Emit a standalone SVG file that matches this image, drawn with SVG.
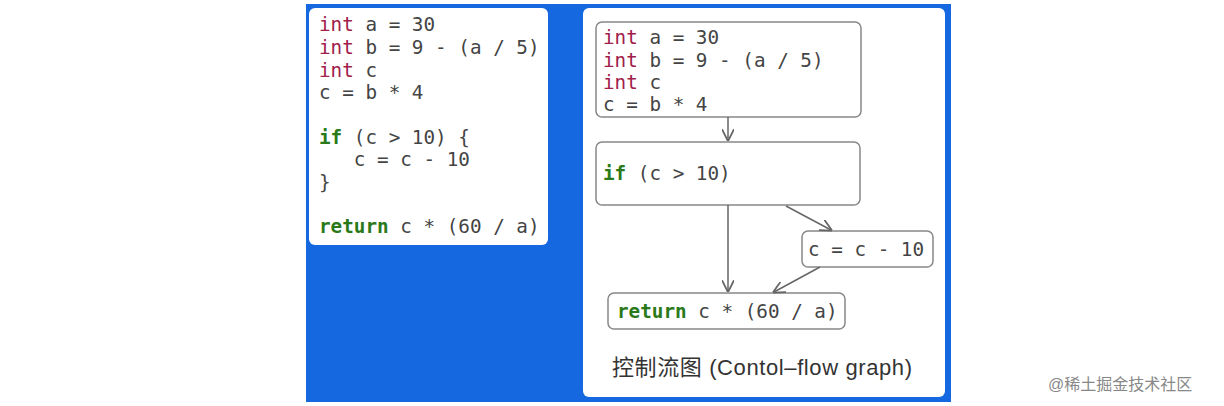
<svg xmlns="http://www.w3.org/2000/svg" width="1224" height="406" viewBox="0 0 1224 406">
<defs>
<style>
.code{font-family:"DejaVu Sans Mono",monospace;font-size:19.3px;fill:#444}
.kw{fill:#a0204a}.kg{fill:#2a7a1a;font-weight:bold}
.box{fill:#fff;stroke:#888;stroke-width:1.5}
.edge{stroke:#666;stroke-width:1.5;fill:none;marker-end:url(#ah)}
</style>
<marker id="ah" viewBox="0 0 10 10" refX="9" refY="5" markerWidth="8" markerHeight="8" orient="auto"><path d="M0,0 L10,5 L0,10" fill="none" stroke="#666" stroke-width="1.5"/></marker>
</defs>
<rect width="1224" height="406" fill="#fff"/>
<rect x="306" y="4" width="645" height="398" fill="#1668e0"/>
<g id="code-panel">
<rect x="309" y="8" width="239" height="237" rx="6" fill="#fff"/>
<text class="code" x="319" y="31"><tspan class="kw">int</tspan> a = 30</text>
<text class="code" x="319" y="54"><tspan class="kw">int</tspan> b = 9 - (a / 5)</text>
<text class="code" x="319" y="77"><tspan class="kw">int</tspan> c</text>
<text class="code" x="319" y="99">c = b * 4</text>
<text class="code" x="319" y="144"><tspan class="kg">if</tspan> (c &gt; 10) {</text>
<text class="code" x="319" y="166" xml:space="preserve">   c = c - 10</text>
<text class="code" x="319" y="189">}</text>
<text class="code" x="319" y="233"><tspan class="kg">return</tspan> c * (60 / a)</text>
</g>
<rect x="583" y="8" width="362" height="389" rx="6" fill="#fff"/>
<g id="n1"><rect class="box" x="596" y="22" width="265" height="95" rx="6"/>
<text class="code" x="603" y="44"><tspan class="kw">int</tspan> a = 30</text>
<text class="code" x="603" y="67"><tspan class="kw">int</tspan> b = 9 - (a / 5)</text>
<text class="code" x="603" y="89"><tspan class="kw">int</tspan> c</text>
<text class="code" x="603" y="111">c = b * 4</text></g>
<g id="n2"><rect class="box" x="596" y="142" width="264" height="63" rx="6"/>
<text class="code" x="603" y="180"><tspan class="kg">if</tspan> (c &gt; 10)</text></g>
<g id="n3"><rect class="box" x="802" y="231" width="131" height="36" rx="6"/>
<text class="code" x="808" y="256">c = c - 10</text></g>
<g id="n4"><rect class="box" x="608" y="293" width="237" height="36" rx="6"/>
<text class="code" x="617" y="318"><tspan class="kg">return</tspan> c * (60 / a)</text></g>
<g id="edges">
<path class="edge" d="M728,117 L728,140"/>
<path class="edge" d="M728,205 L728,291"/>
<path class="edge" d="M786,206 L831,230"/>
<path class="edge" d="M820,267 L774,292"/>
</g>
<text x="612" y="375" font-family="Liberation Sans,'Noto Sans CJK SC',sans-serif" font-size="22" textLength="300" fill="#333">控制流图 (Contol–flow graph)</text>
<text x="1048" y="390" font-family="Liberation Sans,'Noto Sans CJK SC',sans-serif" font-size="16" fill="#888">@稀土掘金技术社区</text>
</svg>
